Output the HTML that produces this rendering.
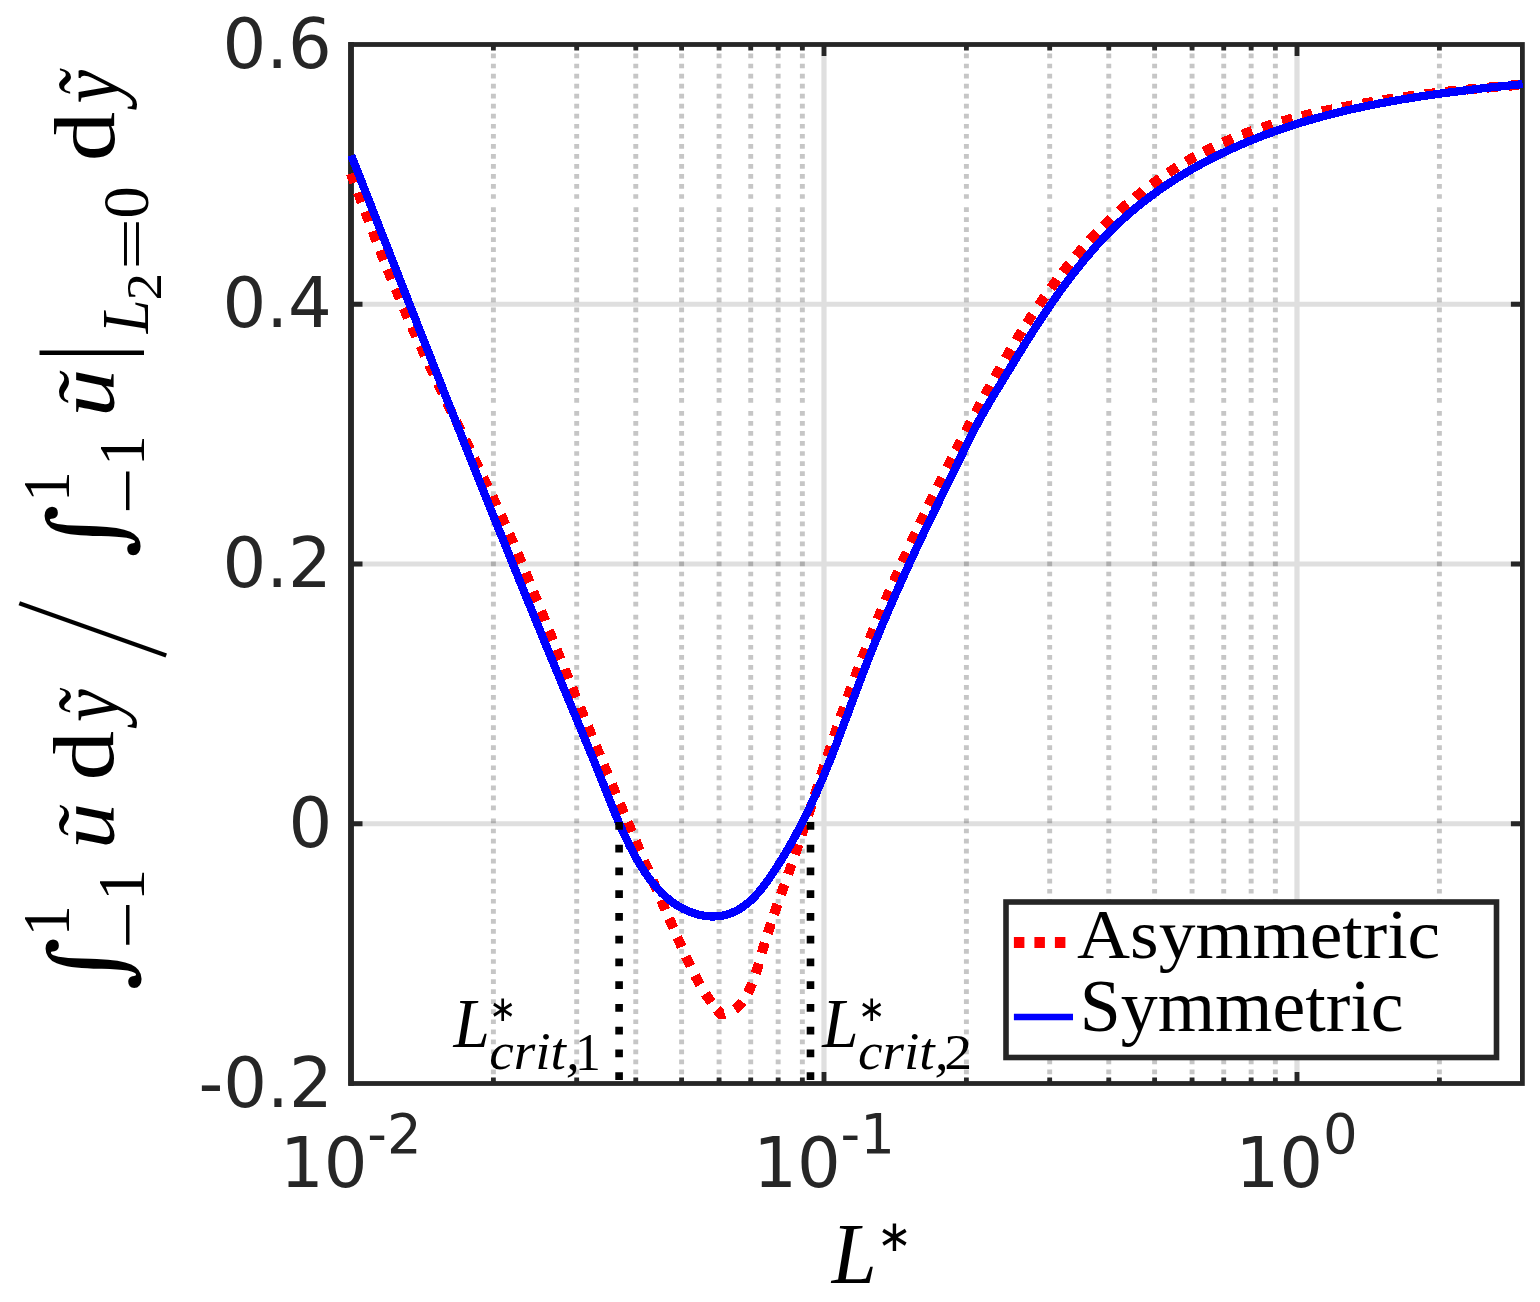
<!DOCTYPE html><html><head><meta charset="utf-8"><title>Plot</title><style>html,body{margin:0;padding:0;background:#fff;overflow:hidden}svg{display:block}</style></head><body><svg width="1540" height="1302" viewBox="0 0 1540 1302"><rect x="0" y="0" width="1540" height="1302" fill="#fff"/>
<path d="M824.00 44.5V1083.5 M1297.00 44.5V1083.5 M351.0 304.25H1522.4 M351.0 564.00H1522.4 M351.0 823.75H1522.4" stroke="#262626" stroke-opacity="0.15" stroke-width="5.2" fill="none"/>
<path d="M493.39 43.56V204.0M493.39 207.2V407.8M493.39 411.0V611.6M493.39 614.8V815.4M493.39 818.6V1083.5M576.68 43.56V204.0M576.68 207.2V407.8M576.68 411.0V611.6M576.68 614.8V815.4M576.68 818.6V1083.5M635.77 43.56V204.0M635.77 207.2V407.8M635.77 411.0V611.6M635.77 614.8V815.4M635.77 818.6V1083.5M681.61 43.56V204.0M681.61 207.2V407.8M681.61 411.0V611.6M681.61 614.8V815.4M681.61 818.6V1083.5M719.07 43.56V204.0M719.07 207.2V407.8M719.07 411.0V611.6M719.07 614.8V815.4M719.07 818.6V1083.5M750.73 43.56V204.0M750.73 207.2V407.8M750.73 411.0V611.6M750.73 614.8V815.4M750.73 818.6V1083.5M778.16 43.56V204.0M778.16 207.2V407.8M778.16 411.0V611.6M778.16 614.8V815.4M778.16 818.6V1083.5M802.36 43.56V204.0M802.36 207.2V407.8M802.36 411.0V611.6M802.36 614.8V815.4M802.36 818.6V1083.5M966.39 43.56V204.0M966.39 207.2V407.8M966.39 411.0V611.6M966.39 614.8V815.4M966.39 818.6V1083.5M1049.68 43.56V204.0M1049.68 207.2V407.8M1049.68 411.0V611.6M1049.68 614.8V815.4M1049.68 818.6V1083.5M1108.77 43.56V204.0M1108.77 207.2V407.8M1108.77 411.0V611.6M1108.77 614.8V815.4M1108.77 818.6V1083.5M1154.61 43.56V204.0M1154.61 207.2V407.8M1154.61 411.0V611.6M1154.61 614.8V815.4M1154.61 818.6V1083.5M1192.07 43.56V204.0M1192.07 207.2V407.8M1192.07 411.0V611.6M1192.07 614.8V815.4M1192.07 818.6V1083.5M1223.73 43.56V204.0M1223.73 207.2V407.8M1223.73 411.0V611.6M1223.73 614.8V815.4M1223.73 818.6V1083.5M1251.16 43.56V204.0M1251.16 207.2V407.8M1251.16 411.0V611.6M1251.16 614.8V815.4M1251.16 818.6V1083.5M1275.36 43.56V204.0M1275.36 207.2V407.8M1275.36 411.0V611.6M1275.36 614.8V815.4M1275.36 818.6V1083.5M1439.39 43.56V204.0M1439.39 207.2V407.8M1439.39 411.0V611.6M1439.39 614.8V815.4M1439.39 818.6V1083.5" stroke="#1a1a1a" stroke-opacity="0.25" stroke-width="4.9" stroke-dasharray="4.7 5.34" fill="none"/>
<path d="M824.00 1083.5v-11.5M824.00 44.5v11.5 M1297.00 1083.5v-11.5M1297.00 44.5v11.5 M493.39 1083.5v-6.0M493.39 44.5v6.0 M576.68 1083.5v-6.0M576.68 44.5v6.0 M635.77 1083.5v-6.0M635.77 44.5v6.0 M681.61 1083.5v-6.0M681.61 44.5v6.0 M719.07 1083.5v-6.0M719.07 44.5v6.0 M750.73 1083.5v-6.0M750.73 44.5v6.0 M778.16 1083.5v-6.0M778.16 44.5v6.0 M802.36 1083.5v-6.0M802.36 44.5v6.0 M966.39 1083.5v-6.0M966.39 44.5v6.0 M1049.68 1083.5v-6.0M1049.68 44.5v6.0 M1108.77 1083.5v-6.0M1108.77 44.5v6.0 M1154.61 1083.5v-6.0M1154.61 44.5v6.0 M1192.07 1083.5v-6.0M1192.07 44.5v6.0 M1223.73 1083.5v-6.0M1223.73 44.5v6.0 M1251.16 1083.5v-6.0M1251.16 44.5v6.0 M1275.36 1083.5v-6.0M1275.36 44.5v6.0 M1439.39 1083.5v-6.0M1439.39 44.5v6.0 M351.0 304.25h11.5M1522.4 304.25h-11.5 M351.0 564.00h11.5M1522.4 564.00h-11.5 M351.0 823.75h11.5M1522.4 823.75h-11.5" stroke="#262626" stroke-width="4.8" fill="none"/>
<rect x="351.0" y="44.5" width="1171.40" height="1039.00" fill="none" stroke="#262626" stroke-width="4.8" stroke-linejoin="miter"/>
<rect x="348.1" y="42.05" width="5.8" height="1043.75" fill="#262626"/>
<path d="M351.0 173.5L351.7 175.4L352.4 177.3L353.1 179.1L353.8 181.0L354.4 182.8M358.0 192.5L358.6 194.1L359.5 196.5L360.2 198.4L361.1 200.7L361.7 202.4M365.2 211.7L365.8 213.3L366.7 215.7L367.4 217.5L368.3 219.9L368.9 221.6M372.7 231.3L373.3 233.0L374.2 235.3L374.9 237.2L375.8 239.5L376.5 241.2M380.1 250.4L380.7 252.1L381.7 254.4L382.4 256.3L383.3 258.6L384.0 260.3M387.7 269.4L388.3 271.1L389.3 273.4L390.0 275.3L391.0 277.6L391.7 279.3M395.6 288.9L396.3 290.5L397.3 292.9L398.1 294.7L399.0 297.0L399.7 298.7M403.8 308.2L404.5 309.9L405.5 312.2L406.3 314.0L407.3 316.3L408.0 318.0M412.0 327.0L412.7 328.7L413.7 331.0L414.6 332.8L415.6 335.1L416.3 336.7M420.5 346.0L421.3 347.8L422.4 350.1L423.2 351.9L424.2 354.2L424.9 355.7M429.2 364.9L429.9 366.5L430.9 368.7L431.8 370.5L432.8 372.8L433.6 374.5M438.0 383.8L438.8 385.5L439.9 387.7L440.7 389.5L441.8 391.8L442.6 393.3M447.0 402.5L447.7 404.0L448.7 406.2L449.6 408.0L450.7 410.3L451.6 412.1M456.0 421.3L456.8 422.9L457.9 425.1L458.8 426.9L459.9 429.2L460.7 430.8M465.2 439.9L466.1 441.7L467.2 444.0L468.1 445.8L469.2 448.0L469.9 449.5M474.3 458.6L475.1 460.2L476.2 462.4L477.0 464.2L478.1 466.5L479.0 468.2M483.4 477.4L484.2 479.1L485.3 481.3L486.2 483.1L487.2 485.4L488.0 486.9M492.3 496.1L493.0 497.6L494.1 499.9L494.9 501.7L495.9 503.9L496.8 505.8M501.0 515.0L501.8 516.7L502.8 519.0L503.6 520.8L504.6 523.1L505.4 524.7M509.3 533.8L510.0 535.4L511.0 537.7L511.8 539.6L512.8 541.9L513.5 543.5M517.6 553.1L518.3 554.8L519.2 557.1L520.0 558.9L521.0 561.2L521.7 562.9M525.6 572.5L526.3 574.2L527.2 576.5L528.0 578.3L528.9 580.7L529.6 582.3M533.3 591.5L534.0 593.2L534.9 595.5L535.7 597.4L536.6 599.7L537.3 601.3M541.2 611.0L541.9 612.7L542.8 615.0L543.5 616.8L544.5 619.2L545.1 620.8M549.0 630.5L549.7 632.1L550.6 634.5L551.4 636.3L552.3 638.6L553.0 640.3M556.7 649.5L557.4 651.2L558.3 653.5L559.0 655.3L560.0 657.7L560.7 659.3M564.6 669.0L565.2 670.6L566.2 673.0L566.9 674.8L567.9 677.1L568.5 678.8M572.1 687.5L572.8 689.2L573.7 691.5L574.4 693.3L575.4 695.7L576.1 697.3M580.2 707.4L580.9 709.1L581.8 711.4L582.6 713.3L583.5 715.6L584.2 717.2M587.9 726.4L588.6 728.1L589.6 730.4L590.3 732.2L591.3 734.5L592.0 736.2M595.9 745.8L596.6 747.5L597.6 749.8L598.3 751.7L599.3 754.0L600.0 755.6M603.8 764.8L604.5 766.4L605.4 768.8L606.2 770.6L607.1 772.9L607.8 774.6M611.8 784.2L612.5 785.8L613.5 788.1L614.3 790.0L615.2 792.3L615.9 794.0M619.9 803.6L620.6 805.2L621.6 807.5L622.4 809.4L623.3 811.7L624.0 813.3M627.7 822.0L628.4 823.6L629.4 825.9L630.1 827.8L631.1 830.1L631.8 831.8M635.7 840.9L636.4 842.5L637.4 844.8L638.2 846.7L639.1 849.0L639.8 850.6M644.1 860.6L644.8 862.3L645.8 864.6L646.6 866.4L647.6 868.7L648.3 870.4M652.6 880.4L653.3 882.1L654.3 884.3L655.1 886.2L656.1 888.5L656.8 890.1M661.2 900.1L661.9 901.8L662.9 904.1L663.7 905.9L664.7 908.2L665.4 909.9M669.2 918.5L669.9 920.1L670.9 922.4L671.7 924.2L672.7 926.5L673.4 928.2M677.4 937.3L678.1 938.9L679.1 941.2L679.9 943.0L680.9 945.3L681.6 947.0M685.9 956.5L686.6 958.1L687.7 960.4L688.5 962.2L689.6 964.4L690.4 966.1M695.0 975.4L695.8 977.0L697.0 979.2L697.9 981.0L699.1 983.2L700.0 984.7M705.3 993.7L706.3 995.2L707.7 997.3L708.8 998.9L710.2 1001.0L711.2 1002.5M716.7 1009.5L717.9 1010.8L719.6 1012.7L721.0 1014.1L723.4 1014.4L724.9 1014.0M734.9 1009.3L736.4 1008.2L738.2 1006.5L739.6 1005.1L741.3 1003.2L742.4 1001.8M747.9 993.0L748.7 991.4L749.7 989.1L750.5 987.3L751.5 985.0L752.2 983.3M755.7 973.5L756.3 971.8L757.0 969.4L757.6 967.5L758.3 965.1L758.8 963.4M761.8 952.9L762.3 951.2L763.0 948.8L763.6 946.8L764.3 944.4L764.8 942.7M767.7 933.2L768.3 931.5L769.0 929.2L769.7 927.3L770.4 924.9L771.0 923.2M774.0 914.3L774.6 912.6L775.4 910.2L776.1 908.3L776.9 905.9L777.5 904.2M781.0 894.4L781.6 892.7L782.4 890.4L783.1 888.5L783.9 886.2L784.5 884.5M788.2 874.2L788.8 872.5L789.6 870.1L790.3 868.2L791.1 865.9L791.7 864.2M795.0 854.6L795.7 852.6L796.3 850.8L797.1 848.4L797.8 846.5L798.4 844.5M801.6 834.9L802.2 833.2L803.0 830.8L803.6 828.9L804.4 826.6L805.0 824.9M808.1 815.2L808.8 813.3L809.4 811.4L810.2 809.0L810.8 807.1L811.4 805.1M814.6 795.5L815.1 793.8L815.9 791.4L816.5 789.5L817.3 787.1L817.8 785.4M821.0 775.5L821.6 773.8L822.4 771.4L823.0 769.5L823.8 767.1L824.3 765.4M827.3 756.5L827.8 754.8L828.6 752.4L829.2 750.5L830.0 748.1L830.6 746.4M833.9 736.6L834.5 734.9L835.3 732.5L835.9 730.6L836.7 728.2L837.3 726.5M840.5 717.2L841.1 715.5L841.9 713.1L842.6 711.2L843.4 708.8L844.0 707.2M847.5 697.4L848.1 695.7L849.0 693.3L849.7 691.4L850.5 689.1L851.1 687.4M854.8 677.6L855.4 675.9L856.3 673.6L857.0 671.7L857.9 669.4L858.5 667.7M862.0 658.5L862.7 656.8L863.6 654.5L864.3 652.6L865.2 650.3L865.9 648.6M869.7 638.9L870.4 637.2L871.3 634.9L872.0 633.1L873.0 630.7L873.7 629.1M877.6 619.4L878.3 617.8L879.2 615.5L880.0 613.6L881.0 611.3L881.6 609.7M885.5 600.5L886.2 598.9L887.2 596.6L887.9 594.7L888.9 592.4L889.6 590.8M893.8 581.2L894.5 579.6L895.5 577.3L896.3 575.5L897.3 573.2L898.0 571.5M902.3 562.0L903.0 560.4L904.0 558.1L904.8 556.3L905.9 554.0L906.6 552.3M911.1 542.4L911.9 540.8L912.9 538.5L913.8 536.7L914.8 534.4L915.6 532.8M919.8 523.8L920.5 522.2L921.6 519.9L922.5 518.1L923.5 515.9L924.3 514.2M928.6 505.3L929.4 503.7L930.4 501.4L931.3 499.6L932.4 497.4L933.2 495.8M937.5 486.9L938.3 485.3L939.4 483.0L940.3 481.2L941.4 479.0L942.2 477.4M947.1 467.6L947.9 466.0L949.0 463.8L949.9 462.0L951.1 459.8L951.9 458.2M955.9 450.2L956.8 448.6L957.9 446.4L958.8 444.6L960.0 442.4L960.8 440.8M965.7 431.3L966.7 429.5L967.6 427.8L968.7 425.5L969.7 423.8L970.6 422.0M975.6 412.5L976.5 411.0L977.6 408.8L978.6 407.0L979.8 404.8L980.6 403.2M985.1 394.9L985.9 393.3L987.1 391.1L988.1 389.4L989.3 387.2L990.2 385.6M994.9 377.0L995.8 375.4L997.0 373.2L998.0 371.5L999.3 369.3L1000.1 367.7M1005.6 358.3L1006.5 356.7L1007.7 354.5L1008.7 352.8L1010.0 350.7L1010.9 349.1M1016.3 340.2L1017.2 338.6L1018.5 336.5L1019.6 334.8L1020.9 332.7L1021.8 331.2M1026.8 323.2L1027.8 321.7L1029.2 319.6L1030.2 317.9L1031.6 315.8L1032.6 314.3M1038.7 305.2L1039.7 303.7L1041.1 301.7L1042.2 300.0L1043.6 298.0L1044.7 296.5M1050.7 288.1L1051.8 286.6L1053.3 284.6L1054.5 283.0L1056.0 281.0L1057.0 279.5M1062.8 272.1L1063.9 270.7L1065.4 268.7L1066.7 267.1L1068.2 265.2L1069.4 263.8M1076.0 255.8L1077.2 254.4L1078.8 252.5L1080.1 251.0L1081.8 249.1L1083.0 247.8M1089.6 240.4L1090.8 239.1L1092.5 237.3L1093.9 235.8L1095.6 234.0L1096.9 232.7M1103.5 226.0L1104.7 224.7L1106.5 223.0L1108.0 221.6L1109.8 219.9L1111.1 218.6M1119.4 210.9L1120.8 209.7L1122.6 208.0L1124.1 206.7L1126.0 205.0L1127.4 203.9M1135.0 197.5L1136.3 196.3L1138.3 194.8L1139.8 193.5L1141.8 192.0L1143.2 190.8M1151.5 184.5L1152.9 183.5L1155.0 182.0L1156.6 180.8L1158.6 179.4L1160.1 178.3M1168.3 172.8L1169.8 171.8L1171.9 170.4L1173.5 169.3L1175.7 168.0L1177.2 167.0M1186.1 161.6L1187.6 160.7L1189.8 159.4L1191.5 158.5L1193.7 157.2L1195.3 156.4M1204.0 151.7L1205.6 150.9L1207.8 149.8L1209.6 148.9L1211.9 147.8L1213.5 147.0M1223.0 142.6L1224.6 141.9L1226.9 140.9L1228.7 140.1L1231.0 139.2L1232.7 138.5M1242.4 134.6L1244.1 134.0L1246.4 133.1L1248.3 132.4L1250.6 131.6L1252.3 131.0M1262.2 127.6L1263.9 127.0L1266.2 126.3L1268.2 125.6L1270.5 124.9L1272.3 124.4M1282.2 121.4L1284.0 120.9L1286.4 120.2L1288.3 119.7L1290.7 119.1L1292.5 118.6M1302.0 116.1L1303.8 115.7L1306.2 115.1L1308.2 114.6L1310.6 114.1L1312.3 113.6M1322.0 111.5L1323.8 111.1L1326.2 110.6L1328.2 110.1L1330.6 109.6L1332.4 109.3M1342.1 107.3L1343.9 107.0L1346.3 106.5L1348.3 106.2L1350.7 105.7L1352.5 105.4M1362.8 103.6L1364.5 103.3L1367.0 102.9L1369.0 102.5L1371.4 102.1L1373.2 101.8M1383.0 100.3L1384.8 100.0L1387.2 99.6L1389.2 99.3L1391.7 98.9L1393.5 98.7M1403.8 97.2L1405.5 96.9L1408.0 96.6L1410.0 96.3L1412.5 96.0L1414.3 95.8M1425.1 94.4L1426.9 94.1L1429.3 93.8L1431.3 93.6L1433.8 93.3L1435.6 93.1M1445.4 91.9L1447.2 91.7L1449.7 91.4L1451.7 91.2L1454.2 90.9L1456.0 90.7M1466.3 89.7L1468.1 89.5L1470.6 89.2L1472.6 89.0L1475.1 88.8L1476.9 88.6M1487.2 87.6L1489.0 87.5L1491.5 87.2L1493.5 87.0L1496.0 86.8L1497.8 86.7M1508.6 85.7L1510.4 85.6L1512.9 85.4L1514.9 85.2L1517.4 85.0L1519.2 84.9" stroke="#ff0000" stroke-width="10" fill="none" stroke-linejoin="miter" shape-rendering="crispEdges"/>
<path d="M351.3 155.4L351.8 156.8 352.4 158.2 352.9 159.6 353.5 161.0 354.0 162.4 354.6 163.8 355.1 165.2 355.7 166.6 356.2 168.0 356.8 169.4 357.3 170.8 357.9 172.2 358.4 173.6 358.9 175.0 359.5 176.4 360.0 177.8 360.6 179.2 361.1 180.6 361.7 182.0 362.2 183.4 362.8 184.7 363.3 186.1 363.9 187.5 364.4 188.9 365.0 190.3 365.5 191.7 366.0 193.1 366.6 194.5 367.1 195.9 367.7 197.3 368.2 198.7 368.8 200.1 369.3 201.5 369.9 202.9 370.4 204.3 371.0 205.7 371.5 207.1 372.1 208.5 372.6 209.9 373.2 211.3 373.7 212.7 374.2 214.1 374.8 215.5 375.3 216.9 375.9 218.3 376.4 219.7 377.0 221.1 377.5 222.5 378.1 223.9 378.6 225.3 379.2 226.7 379.7 228.1 380.3 229.5 380.8 230.9 381.3 232.3 381.9 233.7 382.4 235.1 383.0 236.5 383.5 237.9 384.1 239.3 384.6 240.7 385.2 242.0 385.7 243.4 386.3 244.8 386.8 246.2 387.4 247.6 387.9 249.0 388.5 250.4 389.0 251.8 389.6 253.2 390.1 254.6 390.6 256.0 391.2 257.4 391.7 258.8 392.3 260.2 392.8 261.6 393.4 263.0 393.9 264.4 394.5 265.8 395.0 267.2 395.6 268.6 396.1 270.0 396.7 271.4 397.2 272.8 397.8 274.2 398.3 275.6 398.9 277.0 399.4 278.4 399.9 279.8 400.5 281.2 401.0 282.6 401.6 284.0 402.1 285.4 402.7 286.8 403.2 288.2 403.8 289.6 404.3 291.0 404.9 292.3 405.4 293.7 406.0 295.1 406.5 296.5 407.1 297.9 407.6 299.3 408.2 300.7 408.7 302.1 409.3 303.5 409.8 304.9 410.4 306.3 410.9 307.7 411.5 309.1 412.0 310.5 412.5 311.9 413.1 313.3 413.6 314.7 414.2 316.1 414.7 317.5 415.3 318.9 415.8 320.3 416.4 321.7 416.9 323.1 417.5 324.5 418.0 325.9 418.6 327.3 419.1 328.7 419.7 330.1 420.2 331.5 420.8 332.9 421.3 334.3 421.9 335.6 422.4 337.0 423.0 338.4 423.5 339.8 424.1 341.2 424.6 342.6 425.2 344.0 425.7 345.4 426.3 346.8 426.8 348.2 427.4 349.6 427.9 351.0 428.5 352.4 429.0 353.8 429.6 355.2 430.1 356.6 430.7 358.0 431.2 359.4 431.8 360.8 432.3 362.2 432.9 363.6 433.4 365.0 434.0 366.4 434.5 367.8 435.1 369.2 435.6 370.6 436.2 372.0 436.7 373.3 437.3 374.7 437.8 376.1 438.4 377.5 438.9 378.9 439.5 380.3 440.0 381.7 440.6 383.1 441.1 384.5 441.7 385.9 442.2 387.3 442.8 388.7 443.3 390.1 443.9 391.5 444.4 392.9 445.0 394.3 445.5 395.7 446.1 397.1 446.6 398.5 447.2 399.9 447.7 401.3 448.3 402.7 448.9 404.1 449.4 405.4 450.0 406.8 450.5 408.2 451.1 409.6 451.6 411.0 452.2 412.4 452.7 413.8 453.3 415.2 453.8 416.6 454.4 418.0 454.9 419.4 455.5 420.8 456.0 422.2 456.6 423.6 457.1 425.0 457.7 426.4 458.2 427.8 458.8 429.2 459.4 430.6 459.9 432.0 460.5 433.3 461.0 434.7 461.6 436.1 462.1 437.5 462.7 438.9 463.2 440.3 463.8 441.7 464.3 443.1 464.9 444.5 465.4 445.9 466.0 447.3 466.6 448.7 467.1 450.1 467.7 451.5 468.2 452.9 468.8 454.3 469.3 455.7 469.9 457.0 470.4 458.4 471.0 459.8 471.6 461.2 472.1 462.6 472.7 464.0 473.2 465.4 473.8 466.8 474.3 468.2 474.9 469.6 475.4 471.0 476.0 472.4 476.6 473.8 477.1 475.2 477.7 476.6 478.2 478.0 478.8 479.3 479.3 480.7 479.9 482.1 480.5 483.5 481.0 484.9 481.6 486.3 482.1 487.7 482.7 489.1 483.2 490.5 483.8 491.9 484.4 493.3 484.9 494.7 485.5 496.1 486.0 497.5 486.6 498.9 487.1 500.2 487.7 501.6 488.3 503.0 488.8 504.4 489.4 505.8 489.9 507.2 490.5 508.6 491.1 510.0 491.6 511.4 492.2 512.8 492.7 514.2 493.3 515.6 493.9 517.0 494.4 518.4 495.0 519.7 495.5 521.1 496.1 522.5 496.7 523.9 497.2 525.3 497.8 526.7 498.3 528.1 498.9 529.5 499.5 530.9 500.0 532.3 500.6 533.7 501.1 535.1 501.7 536.4 502.3 537.8 502.8 539.2 503.4 540.6 503.9 542.0 504.5 543.4 505.1 544.8 505.6 546.2 506.2 547.6 506.8 549.0 507.3 550.4 507.9 551.8 508.4 553.1 509.0 554.5 509.6 555.9 510.1 557.3 510.7 558.7 511.3 560.1 511.8 561.5 512.4 562.9 512.9 564.3 513.5 565.7 514.1 567.1 514.6 568.4 515.2 569.8 515.8 571.2 516.3 572.6 516.9 574.0 517.5 575.4 518.0 576.8 518.6 578.2 519.1 579.6 519.7 581.0 520.3 582.3 520.8 583.7 521.4 585.1 522.0 586.5 522.5 587.9 523.1 589.3 523.7 590.7 524.2 592.1 524.8 593.5 525.4 594.9 525.9 596.2 526.5 597.6 527.1 599.0 527.6 600.4 528.2 601.8 528.8 603.2 529.3 604.6 529.9 606.0 530.5 607.4 531.0 608.8 531.6 610.1 532.2 611.5 532.7 612.9 533.3 614.3 533.9 615.7 534.4 617.1 535.0 618.5 535.6 619.9 536.2 621.2 536.7 622.6 537.3 624.0 537.9 625.4 538.4 626.8 539.0 628.2 539.6 629.6 540.1 631.0 540.7 632.4 541.3 633.7 541.8 635.1 542.4 636.5 543.0 637.9 543.6 639.3 544.1 640.7 544.7 642.1 545.3 643.5 545.8 644.8 546.4 646.2 547.0 647.6 547.6 649.0 548.1 650.4 548.7 651.8 549.3 653.2 549.8 654.6 550.4 655.9 551.0 657.3 551.6 658.7 552.1 660.1 552.7 661.5 553.3 662.9 553.9 664.3 554.4 665.7 555.0 667.0 555.6 668.4 556.2 669.8 556.7 671.2 557.3 672.6 557.9 674.0 558.5 675.4 559.0 676.7 559.6 678.1 560.2 679.5 560.8 680.9 561.3 682.3 561.9 683.7 562.5 685.1 563.1 686.4 563.6 687.8 564.2 689.2 564.8 690.6 565.4 692.0 565.9 693.4 566.5 694.8 567.1 696.1 567.7 697.5 568.2 698.9 568.8 700.3 569.4 701.7 570.0 703.1 570.6 704.5 571.1 705.8 571.7 707.2 572.3 708.6 572.9 710.0 573.4 711.4 574.0 712.8 574.6 714.1 575.2 715.5 575.8 716.9 576.3 718.3 576.9 719.7 577.5 721.1 578.1 722.5 578.6 723.8 579.2 725.2 579.8 726.6 580.4 728.0 580.9 729.4 581.5 730.8 582.1 732.2 582.7 733.5 583.2 734.9 583.8 736.3 584.4 737.7 585.0 739.1 585.5 740.5 586.1 741.9 586.7 743.2 587.3 744.6 587.8 746.0 588.4 747.4 589.0 748.8 589.5 750.2 590.1 751.6 590.7 753.0 591.3 754.3 591.8 755.7 592.4 757.1 593.0 758.5 593.5 759.9 594.1 761.3 594.7 762.7 595.2 764.1 595.8 765.5 596.4 766.9 596.9 768.2 597.5 769.6 598.1 771.0 598.6 772.4 599.2 773.8 599.7 775.2 600.3 776.6 600.9 778.0 601.4 779.4 602.0 780.8 602.5 782.2 603.1 783.6 603.7 784.9 604.2 786.3 604.8 787.7 605.3 789.1 605.9 790.5 606.4 791.9 607.0 793.3 607.5 794.7 608.1 796.1 608.6 797.5 609.2 798.9 609.8 800.3 610.3 801.7 610.9 803.1 611.4 804.5 612.0 805.9 612.6 807.2 613.1 808.6 613.7 810.0 614.3 811.4 614.8 812.8 615.4 814.2 616.0 815.6 616.6 817.0 617.1 818.3 617.7 819.7 618.3 821.1 618.9 822.5 619.5 823.9 620.1 825.2 620.7 826.6 621.3 828.0 621.9 829.4 622.5 830.7 623.1 832.1 623.8 833.5 624.4 834.8 625.0 836.2 625.7 837.5 626.3 838.9 627.0 840.2 627.6 841.6 628.3 842.9 629.0 844.3 629.6 845.6 630.3 847.0 631.0 848.3 631.7 849.6 632.4 851.0 633.1 852.3 633.8 853.6 634.5 854.9 635.2 856.2 635.9 857.6 636.7 858.9 637.4 860.2 638.2 861.5 638.9 862.8 639.7 864.0 640.5 865.3 641.3 866.6 642.1 867.9 642.9 869.1 643.7 870.4 644.5 871.7 645.4 872.9 646.2 874.1 647.1 875.4 647.9 876.6 648.8 877.8 649.7 879.0 650.6 880.2 651.5 881.4 652.5 882.6 653.4 883.7 654.4 884.9 655.3 886.0 656.3 887.2 657.3 888.3 658.3 889.4 659.3 890.5 660.4 891.6 661.4 892.7 662.5 893.7 663.6 894.7 664.7 895.8 665.8 896.8 666.9 897.8 668.1 898.7 669.2 899.7 670.4 900.6 671.6 901.5 672.8 902.4 674.0 903.3 675.3 904.1 676.5 905.0 677.8 905.8 679.1 906.5 680.4 907.3 681.7 908.0 683.0 908.7 684.4 909.4 685.7 910.0 687.1 910.7 688.5 911.2 689.9 911.8 691.3 912.3 692.7 912.8 694.1 913.3 695.5 913.8 697.0 914.2 698.4 914.6 699.9 914.9 701.3 915.2 702.8 915.5 704.3 915.7 705.8 916.0 707.3 916.1 708.8 916.3 710.3 916.4 711.8 916.4 713.3 916.4 714.8 916.4 716.3 916.3 717.8 916.2 719.3 916.1 720.7 915.9 722.2 915.6 723.7 915.3 725.2 915.0 726.6 914.6 728.0 914.2 729.5 913.7 730.9 913.2 732.3 912.6 733.7 912.0 735.0 911.4 736.4 910.7 737.7 910.0 739.0 909.3 740.3 908.5 741.6 907.7 742.8 906.9 744.0 906.0 745.2 905.1 746.4 904.2 747.6 903.3 748.7 902.3 749.9 901.3 751.0 900.3 752.1 899.3 753.1 898.2 754.2 897.2 755.2 896.1 756.2 895.0 757.2 893.9 758.2 892.7 759.2 891.6 760.2 890.4 761.1 889.3 762.0 888.1 763.0 886.9 763.9 885.7 764.8 884.5 765.7 883.3 766.6 882.1 767.4 880.9 768.3 879.7 769.2 878.4 770.0 877.2 770.9 876.0 771.7 874.7 772.6 873.5 773.4 872.2 774.2 871.0 775.1 869.7 775.9 868.5 776.7 867.2 777.5 866.0 778.3 864.7 779.1 863.4 779.9 862.2 780.7 860.9 781.5 859.6 782.3 858.4 783.1 857.1 783.9 855.8 784.7 854.5 785.4 853.2 786.2 851.9 787.0 850.6 787.7 849.3 788.5 848.0 789.2 846.7 790.0 845.4 790.7 844.1 791.5 842.8 792.2 841.5 792.9 840.2 793.7 838.9 794.4 837.6 795.1 836.3 795.8 835.0 796.5 833.6 797.2 832.3 797.9 831.0 798.6 829.7 799.3 828.3 800.0 827.0 800.7 825.7 801.4 824.3 802.1 823.0 802.7 821.6 803.4 820.3 804.1 819.0 804.8 817.6 805.4 816.3 806.1 814.9 806.7 813.6 807.4 812.2 808.0 810.9 808.7 809.5 809.3 808.2 810.0 806.8 810.6 805.4 811.2 804.1 811.9 802.7 812.5 801.4 813.1 800.0 813.7 798.6 814.4 797.3 815.0 795.9 815.6 794.5 816.2 793.2 816.8 791.8 817.4 790.4 818.0 789.0 818.6 787.7 819.2 786.3 819.8 784.9 820.4 783.5 821.0 782.1 821.6 780.8 822.2 779.4 822.7 778.0 823.3 776.6 823.9 775.2 824.5 773.8 825.1 772.5 825.6 771.1 826.2 769.7 826.8 768.3 827.3 766.9 827.9 765.5 828.4 764.1 829.0 762.7 829.6 761.3 830.1 759.9 830.7 758.5 831.2 757.2 831.8 755.8 832.3 754.4 832.9 753.0 833.4 751.6 834.0 750.2 834.5 748.8 835.1 747.4 835.6 746.0 836.1 744.6 836.7 743.2 837.2 741.8 837.7 740.4 838.3 739.0 838.8 737.6 839.3 736.2 839.9 734.8 840.4 733.4 840.9 731.9 841.5 730.5 842.0 729.1 842.5 727.7 843.1 726.3 843.6 724.9 844.1 723.5 844.6 722.1 845.2 720.7 845.7 719.3 846.2 717.9 846.7 716.5 847.3 715.1 847.8 713.7 848.3 712.3 848.8 710.9 849.3 709.5 849.9 708.1 850.4 706.6 850.9 705.2 851.4 703.8 852.0 702.4 852.5 701.0 853.0 699.6 853.5 698.2 854.1 696.8 854.6 695.4 855.1 694.0 855.6 692.6 856.2 691.2 856.7 689.8 857.2 688.4 857.7 687.0 858.3 685.6 858.8 684.2 859.3 682.8 859.9 681.3 860.4 679.9 860.9 678.5 861.4 677.1 862.0 675.7 862.5 674.3 863.1 672.9 863.6 671.5 864.1 670.1 864.7 668.7 865.2 667.3 865.8 665.9 866.3 664.5 866.8 663.1 867.4 661.7 867.9 660.3 868.5 658.9 869.0 657.5 869.6 656.2 870.1 654.8 870.7 653.4 871.3 652.0 871.8 650.6 872.4 649.2 872.9 647.8 873.5 646.4 874.1 645.0 874.6 643.6 875.2 642.2 875.7 640.8 876.3 639.4 876.9 638.1 877.5 636.7 878.0 635.3 878.6 633.9 879.2 632.5 879.7 631.1 880.3 629.7 880.9 628.4 881.5 627.0 882.1 625.6 882.6 624.2 883.2 622.8 883.8 621.4 884.4 620.1 885.0 618.7 885.6 617.3 886.1 615.9 886.7 614.5 887.3 613.2 887.9 611.8 888.5 610.4 889.1 609.0 889.7 607.6 890.3 606.3 890.9 604.9 891.5 603.5 892.1 602.1 892.7 600.8 893.3 599.4 893.9 598.0 894.5 596.6 895.1 595.3 895.7 593.9 896.3 592.5 896.9 591.1 897.5 589.8 898.1 588.4 898.7 587.0 899.4 585.7 900.0 584.3 900.6 582.9 901.2 581.6 901.8 580.2 902.4 578.8 903.1 577.4 903.7 576.1 904.3 574.7 904.9 573.3 905.5 572.0 906.2 570.6 906.8 569.2 907.4 567.9 908.0 566.5 908.7 565.2 909.3 563.8 909.9 562.4 910.5 561.1 911.2 559.7 911.8 558.3 912.4 557.0 913.1 555.6 913.7 554.3 914.3 552.9 915.0 551.5 915.6 550.2 916.2 548.8 916.9 547.5 917.5 546.1 918.1 544.7 918.8 543.4 919.4 542.0 920.1 540.7 920.7 539.3 921.3 538.0 922.0 536.6 922.6 535.3 923.3 533.9 923.9 532.5 924.6 531.2 925.2 529.8 925.9 528.5 926.5 527.1 927.2 525.8 927.8 524.4 928.5 523.1 929.1 521.7 929.8 520.4 930.4 519.0 931.1 517.7 931.7 516.3 932.4 515.0 933.0 513.6 933.7 512.3 934.4 510.9 935.0 509.6 935.7 508.2 936.3 506.9 937.0 505.5 937.6 504.2 938.3 502.8 939.0 501.5 939.6 500.1 940.3 498.8 940.9 497.4 941.6 496.1 942.3 494.7 942.9 493.4 943.6 492.0 944.2 490.7 944.9 489.4 945.6 488.0 946.2 486.7 946.9 485.3 947.6 484.0 948.2 482.6 948.9 481.3 949.5 479.9 950.2 478.6 950.9 477.2 951.5 475.9 952.2 474.5 952.8 473.2 953.5 471.8 954.2 470.5 954.8 469.1 955.5 467.8 956.1 466.4 956.8 465.1 957.5 463.7 958.1 462.4 958.8 461.1 959.4 459.7 960.1 458.4 960.7 457.0 961.4 455.7 962.0 454.3 962.7 453.0 963.4 451.6 964.0 450.3 964.7 448.9 965.3 447.6 966.0 446.2 966.6 444.9 967.3 443.5 968.0 442.2 968.6 440.8 969.3 439.5 970.0 438.1 970.6 436.8 971.3 435.4 972.0 434.1 972.7 432.8 973.3 431.4 974.0 430.1 974.7 428.8 975.4 427.4 976.1 426.1 976.8 424.8 977.5 423.4 978.2 422.1 978.9 420.8 979.6 419.5 980.3 418.2 981.1 416.8 981.8 415.5 982.5 414.2 983.3 412.9 984.0 411.6 984.8 410.3 985.5 409.0 986.3 407.7 987.0 406.4 987.8 405.1 988.5 403.8 989.3 402.5 990.1 401.2 990.8 400.0 991.6 398.7 992.4 397.4 993.1 396.1 993.9 394.8 994.7 393.5 995.5 392.2 996.2 391.0 997.0 389.7 997.8 388.4 998.6 387.1 999.4 385.8 1000.1 384.5 1000.9 383.3 1001.7 382.0 1002.5 380.7 1003.3 379.4 1004.0 378.1 1004.8 376.8 1005.6 375.6 1006.4 374.3 1007.1 373.0 1007.9 371.7 1008.7 370.4 1009.5 369.2 1010.3 367.9 1011.0 366.6 1011.8 365.3 1012.6 364.0 1013.4 362.8 1014.2 361.5 1015.0 360.2 1015.7 358.9 1016.5 357.6 1017.3 356.4 1018.1 355.1 1018.9 353.8 1019.7 352.5 1020.5 351.2 1021.3 350.0 1022.1 348.7 1022.8 347.4 1023.6 346.1 1024.4 344.9 1025.2 343.6 1026.0 342.3 1026.8 341.1 1027.6 339.8 1028.4 338.5 1029.2 337.3 1030.0 336.0 1030.8 334.7 1031.6 333.5 1032.4 332.2 1033.3 330.9 1034.1 329.7 1034.9 328.4 1035.7 327.1 1036.5 325.9 1037.3 324.6 1038.1 323.4 1039.0 322.1 1039.8 320.9 1040.6 319.6 1041.4 318.3 1042.3 317.1 1043.1 315.8 1043.9 314.6 1044.8 313.3 1045.6 312.1 1046.4 310.9 1047.3 309.6 1048.1 308.4 1049.0 307.1 1049.8 305.9 1050.7 304.6 1051.5 303.4 1052.4 302.2 1053.2 300.9 1054.1 299.7 1054.9 298.5 1055.8 297.3 1056.7 296.0 1057.5 294.8 1058.4 293.6 1059.3 292.4 1060.1 291.1 1061.0 289.9 1061.9 288.7 1062.8 287.5 1063.7 286.3 1064.6 285.1 1065.5 283.9 1066.3 282.7 1067.2 281.5 1068.1 280.3 1069.1 279.1 1070.0 277.9 1070.9 276.7 1071.8 275.5 1072.7 274.3 1073.6 273.1 1074.5 271.9 1075.5 270.8 1076.4 269.6 1077.3 268.4 1078.3 267.2 1079.2 266.1 1080.1 264.9 1081.1 263.7 1082.0 262.6 1083.0 261.4 1083.9 260.2 1084.9 259.1 1085.9 257.9 1086.8 256.8 1087.8 255.6 1088.8 254.5 1089.8 253.4 1090.7 252.2 1091.7 251.1 1092.7 250.0 1093.7 248.8 1094.7 247.7 1095.7 246.6 1096.7 245.5 1097.7 244.4 1098.7 243.3 1099.7 242.2 1100.8 241.1 1101.8 240.0 1102.8 238.9 1103.8 237.8 1104.9 236.7 1105.9 235.6 1107.0 234.5 1108.0 233.5 1109.1 232.4 1110.1 231.3 1111.2 230.3 1112.3 229.2 1113.3 228.2 1114.4 227.1 1115.5 226.1 1116.6 225.0 1117.7 224.0 1118.7 223.0 1119.8 222.0 1120.9 220.9 1122.0 219.9 1123.2 218.9 1124.3 217.9 1125.4 216.9 1126.5 215.9 1127.6 214.9 1128.8 213.9 1129.9 212.9 1131.0 212.0 1132.2 211.0 1133.3 210.0 1134.5 209.1 1135.6 208.1 1136.8 207.1 1137.9 206.2 1139.1 205.2 1140.3 204.3 1141.4 203.4 1142.6 202.4 1143.8 201.5 1145.0 200.6 1146.2 199.7 1147.4 198.8 1148.6 197.8 1149.8 196.9 1151.0 196.0 1152.2 195.2 1153.4 194.3 1154.6 193.4 1155.8 192.5 1157.0 191.6 1158.2 190.7 1159.5 189.9 1160.7 189.0 1161.9 188.2 1163.2 187.3 1164.4 186.5 1165.6 185.6 1166.9 184.8 1168.1 183.9 1169.4 183.1 1170.6 182.3 1171.9 181.5 1173.2 180.7 1174.4 179.8 1175.7 179.0 1176.9 178.2 1178.2 177.4 1179.5 176.6 1180.8 175.8 1182.0 175.1 1183.3 174.3 1184.6 173.5 1185.9 172.7 1187.2 172.0 1188.5 171.2 1189.8 170.4 1191.1 169.7 1192.4 168.9 1193.7 168.2 1195.0 167.5 1196.3 166.7 1197.6 166.0 1198.9 165.3 1200.2 164.5 1201.5 163.8 1202.9 163.1 1204.2 162.4 1205.5 161.7 1206.8 161.0 1208.2 160.3 1209.5 159.6 1210.8 158.9 1212.2 158.2 1213.5 157.5 1214.8 156.9 1216.2 156.2 1217.5 155.5 1218.9 154.8 1220.2 154.2 1221.6 153.5 1222.9 152.9 1224.3 152.2 1225.6 151.6 1227.0 150.9 1228.3 150.3 1229.7 149.7 1231.1 149.0 1232.4 148.4 1233.8 147.8 1235.2 147.2 1236.5 146.6 1237.9 146.0 1239.3 145.4 1240.6 144.8 1242.0 144.2 1243.4 143.6 1244.8 143.0 1246.2 142.4 1247.6 141.8 1248.9 141.3 1250.3 140.7 1251.7 140.1 1253.1 139.5 1254.5 139.0 1255.9 138.4 1257.3 137.9 1258.7 137.3 1260.1 136.8 1261.5 136.2 1262.9 135.7 1264.3 135.2 1265.7 134.6 1267.1 134.1 1268.5 133.6 1269.9 133.1 1271.3 132.6 1272.7 132.0 1274.1 131.5 1275.5 131.0 1277.0 130.5 1278.4 130.0 1279.8 129.5 1281.2 129.1 1282.6 128.6 1284.1 128.1 1285.5 127.6 1286.9 127.1 1288.3 126.7 1289.8 126.2 1291.2 125.7 1292.6 125.3 1294.0 124.8 1295.5 124.4 1296.9 123.9 1298.3 123.5 1299.8 123.0 1301.2 122.6 1302.6 122.1 1304.1 121.7 1305.5 121.3 1306.9 120.9 1308.4 120.4 1309.8 120.0 1311.3 119.6 1312.7 119.2 1314.2 118.8 1315.6 118.4 1317.0 118.0 1318.5 117.6 1319.9 117.2 1321.4 116.8 1322.8 116.4 1324.3 116.0 1325.7 115.6 1327.2 115.2 1328.6 114.9 1330.1 114.5 1331.5 114.1 1333.0 113.7 1334.5 113.4 1335.9 113.0 1337.4 112.6 1338.8 112.3 1340.3 111.9 1341.7 111.6 1343.2 111.2 1344.7 110.9 1346.1 110.5 1347.6 110.2 1349.1 109.9 1350.5 109.5 1352.0 109.2 1353.4 108.9 1354.9 108.6 1356.4 108.2 1357.8 107.9 1359.3 107.6 1360.8 107.3 1362.2 107.0 1363.7 106.7 1365.2 106.3 1366.6 106.0 1368.1 105.7 1369.6 105.4 1371.1 105.1 1372.5 104.8 1374.0 104.6 1375.5 104.3 1376.9 104.0 1378.4 103.7 1379.9 103.4 1381.4 103.1 1382.8 102.9 1384.3 102.6 1385.8 102.3 1387.3 102.0 1388.7 101.8 1390.2 101.5 1391.7 101.2 1393.2 101.0 1394.7 100.7 1396.1 100.5 1397.6 100.2 1399.1 99.9 1400.6 99.7 1402.0 99.4 1403.5 99.2 1405.0 99.0 1406.5 98.7 1408.0 98.5 1409.5 98.2 1410.9 98.0 1412.4 97.8 1413.9 97.5 1415.4 97.3 1416.9 97.1 1418.3 96.8 1419.8 96.6 1421.3 96.4 1422.8 96.2 1424.3 95.9 1425.8 95.7 1427.2 95.5 1428.7 95.3 1430.2 95.1 1431.7 94.9 1433.2 94.6 1434.7 94.4 1436.2 94.2 1437.6 94.0 1439.1 93.8 1440.6 93.6 1442.1 93.4 1443.6 93.2 1445.1 93.0 1446.6 92.8 1448.1 92.6 1449.5 92.4 1451.0 92.2 1452.5 92.0 1454.0 91.8 1455.5 91.7 1457.0 91.5 1458.5 91.3 1460.0 91.1 1461.5 90.9 1462.9 90.7 1464.4 90.5 1465.9 90.4 1467.4 90.2 1468.9 90.0 1470.4 89.8 1471.9 89.6 1473.4 89.5 1474.9 89.3 1476.4 89.1 1477.8 88.9 1479.3 88.8 1480.8 88.6 1482.3 88.4 1483.8 88.3 1485.3 88.1 1486.8 87.9 1488.3 87.8 1489.8 87.6 1491.3 87.4 1492.8 87.3 1494.2 87.1 1495.7 86.9 1497.2 86.8 1498.7 86.6 1500.2 86.5 1501.7 86.3 1503.2 86.1 1504.7 86.0 1506.2 85.8 1507.7 85.7 1509.2 85.5 1510.7 85.3 1512.2 85.2 1513.6 85.0 1515.1 84.9 1516.6 84.7 1518.1 84.6 1519.6 84.4 1521.1 84.3 1522.6 84.1" stroke="#0000ff" stroke-width="8.2" fill="none" stroke-linejoin="round" shape-rendering="crispEdges"/>
<path d="M619.1 822.1V1081" stroke="#000" stroke-width="7.6" stroke-dasharray="7.65 15.1" fill="none"/>
<path d="M810.5 822.1V1081" stroke="#000" stroke-width="7.6" stroke-dasharray="7.65 15.1" fill="none"/>
<text x="222.43" y="67.66" font-family="DejaVu Sans, sans-serif" font-size="68.80" fill="#262626">0.6</text>
<text x="222.43" y="327.46" font-family="DejaVu Sans, sans-serif" font-size="68.80" fill="#262626">0.4</text>
<text x="222.43" y="587.26" font-family="DejaVu Sans, sans-serif" font-size="68.80" fill="#262626">0.2</text>
<text x="288.43" y="847.06" font-family="DejaVu Sans, sans-serif" font-size="68.80" fill="#262626">0</text>
<text x="198.46" y="1106.86" font-family="DejaVu Sans, sans-serif" font-size="68.80" fill="#262626">-0.2</text>
<text x="279.93" y="1186.75" font-family="DejaVu Sans, sans-serif" font-size="68.80" fill="#262626">10</text>
<text x="367.27" y="1152.80" font-family="DejaVu Sans, sans-serif" font-size="54.50" fill="#262626">-2</text>
<text x="753.23" y="1186.75" font-family="DejaVu Sans, sans-serif" font-size="68.80" fill="#262626">10</text>
<text x="840.48" y="1152.80" font-family="DejaVu Sans, sans-serif" font-size="54.50" fill="#262626">-1</text>
<text x="1235.53" y="1186.75" font-family="DejaVu Sans, sans-serif" font-size="68.80" fill="#262626">10</text>
<text x="1322.96" y="1152.80" font-family="DejaVu Sans, sans-serif" font-size="54.50" fill="#262626">0</text>
<text transform="matrix(0.80769 0 0 0.87692 831.81 1282.80)" font-family="Liberation Serif, serif" font-style="italic" font-size="100" fill="#000">L</text>
<text transform="matrix(0.41897 0 0 0.44320 877.35 1250.60)" font-family="Liberation Serif, serif" font-size="100" fill="#000">&#8727;</text>
<text transform="matrix(0.65192 0 0 0.70615 453.55 1047.00)" font-family="Liberation Serif, serif" font-style="italic" font-size="100" fill="#000">L</text>
<text transform="matrix(0.32241 0 0 0.35520 489.01 1021.00)" font-family="Liberation Serif, serif" font-size="100" fill="#000">&#8727;</text>
<text transform="matrix(0.55275 0 0 0.52963 489.14 1069.16)" font-family="Liberation Serif, serif" font-style="italic" font-size="100" fill="#000">crit,</text>
<text transform="matrix(0.51714 0 0 0.52672 575.05 1069.50)" font-family="Liberation Serif, serif" font-size="100" fill="#000">1</text>
<text transform="matrix(0.65192 0 0 0.70615 822.35 1047.00)" font-family="Liberation Serif, serif" font-style="italic" font-size="100" fill="#000">L</text>
<text transform="matrix(0.32241 0 0 0.35520 857.81 1021.00)" font-family="Liberation Serif, serif" font-size="100" fill="#000">&#8727;</text>
<text transform="matrix(0.55275 0 0 0.52963 857.94 1069.16)" font-family="Liberation Serif, serif" font-style="italic" font-size="100" fill="#000">crit,</text>
<text transform="matrix(0.55750 0 0 0.51364 944.19 1068.90)" font-family="Liberation Serif, serif" font-size="100" fill="#000">2</text>
<g transform="rotate(-90)"><text transform="matrix(1.02128 0 0 1.02567 -990.55 122.54)" font-family="DejaVu Serif, serif" font-size="100" fill="#000">&#8747;</text><text transform="matrix(0.61714 0 0 0.67786 -936.25 69.10)" font-family="Liberation Serif, serif" font-size="100" fill="#000">1</text><text transform="matrix(0.85376 0 0 0.70000 -948.97 150.65)" font-family="Liberation Serif, serif" font-size="100" fill="#000">&#8722;</text><text transform="matrix(0.63429 0 0 0.67023 -900.81 143.90)" font-family="Liberation Serif, serif" font-size="100" fill="#000">1</text><text transform="matrix(0.92093 0 0 0.80730 -849.00 114.19)" font-family="Liberation Serif, serif" font-style="italic" font-size="100" fill="#000">&#361;</text><text transform="matrix(0.99341 0 0 0.85714 -780.58 113.24)" font-family="Liberation Serif, serif" font-size="100" fill="#000">d</text><text transform="matrix(0.73636 0 0 0.86966 -721.94 118.40)" font-family="Liberation Serif, serif" font-style="italic" font-size="100" fill="#000">&#7929;</text><text transform="matrix(1.02128 0 0 1.02567 -557.85 122.34)" font-family="DejaVu Serif, serif" font-size="100" fill="#000">&#8747;</text><text transform="matrix(0.60571 0 0 0.67634 -501.65 68.90)" font-family="Liberation Serif, serif" font-size="100" fill="#000">1</text><text transform="matrix(0.83011 0 0 0.70000 -514.15 150.65)" font-family="Liberation Serif, serif" font-size="100" fill="#000">&#8722;</text><text transform="matrix(0.60857 0 0 0.66260 -465.78 143.60)" font-family="Liberation Serif, serif" font-size="100" fill="#000">1</text><text transform="matrix(0.96512 0 0 0.79416 -417.03 113.91)" font-family="Liberation Serif, serif" font-style="italic" font-size="100" fill="#000">&#361;</text><text transform="matrix(0.90000 0 0 1.14917 -361.75 120.29)" font-family="Liberation Serif, serif" font-size="100" fill="#000">|</text><text transform="matrix(0.60385 0 0 0.68000 -333.30 147.80)" font-family="Liberation Serif, serif" font-style="italic" font-size="100" fill="#000">L</text><text transform="matrix(0.55250 0 0 0.51667 -300.39 160.70)" font-family="Liberation Serif, serif" font-size="100" fill="#000">2</text><text transform="matrix(0.93118 0 0 0.58800 -270.36 150.65)" font-family="Liberation Serif, serif" font-size="100" fill="#000">=</text><text transform="matrix(0.64286 0 0 0.65630 -218.57 148.14)" font-family="Liberation Serif, serif" font-size="100" fill="#000">0</text><text transform="matrix(0.99121 0 0 0.87000 -161.27 113.83)" font-family="Liberation Serif, serif" font-size="100" fill="#000">d</text><text transform="matrix(0.75636 0 0 0.85955 -103.57 118.32)" font-family="Liberation Serif, serif" font-style="italic" font-size="100" fill="#000">&#7929;</text><text transform="translate(-629.55 93.10) rotate(19.545) scale(0.8600 1.7142) translate(-10.00 23.75)" font-family="Liberation Serif, serif" font-size="100" fill="#000">|</text></g>
<rect x="1006" y="902" width="490.5" height="155.5" fill="#fff" stroke="#262626" stroke-width="5.6"/>
<path d="M1013.9 942.4H1066" stroke="#ff0000" stroke-width="11" stroke-dasharray="10.5 10" fill="none"/>
<path d="M1013.9 1016.9H1073" stroke="#0000ff" stroke-width="6.5" fill="none"/>
<text transform="matrix(0.73496 0 0 0.69885 1076.97 958.02)" font-family="Liberation Serif, serif" font-size="100" fill="#000">Asymmetric</text>
<text transform="matrix(0.73800 0 0 0.74713 1079.70 1030.51)" font-family="Liberation Serif, serif" font-size="100" fill="#000">Symmetric</text></svg></body></html>
